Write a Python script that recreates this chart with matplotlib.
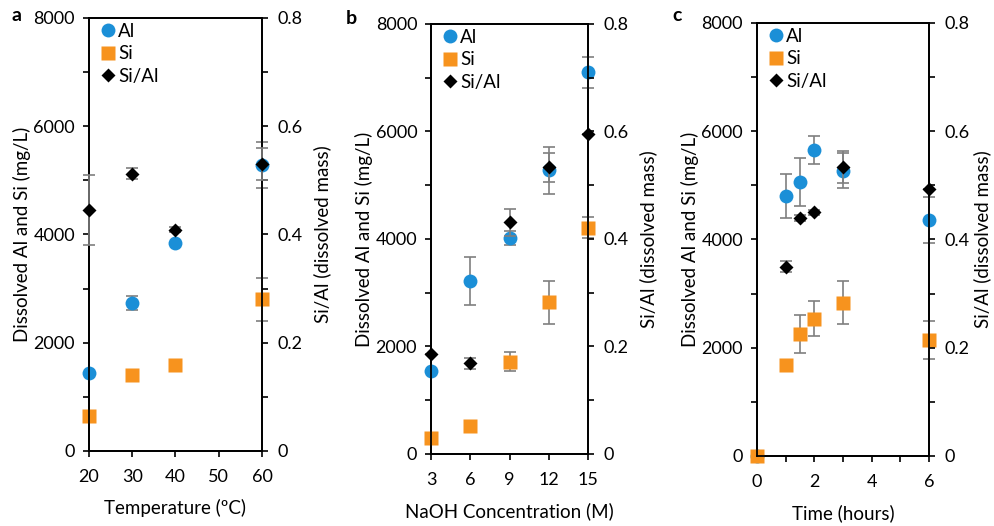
"""
Dissolved Al and Si vs. temperature, NaOH concentration and time,
with Si/Al mass ratio on a secondary axis (three panels).
"""

import numpy as np
import matplotlib.pyplot as plt
from matplotlib.lines import Line2D

plt.rcParams['font.family'] = ['Lato', 'DejaVu Sans']

# ---- data ----

# panel a: temperature
temp = [20, 30, 40, 60]
al_a = [1450, 2730, 3850, 5280]
al_a_err = [0, 130, 0, 430]
si_a = [640, 1400, 1580, 2800]
si_a_err = [0, 0, 0, 390]
ratio_a = [0.445, 0.512, 0.409, 0.530]
ratio_a_err = [0.065, 0.010, 0.005, 0.030]

# panel b: NaOH concentration
naoh = [3, 6, 9, 12, 15]
al_b = [1550, 3220, 4020, 5280, 7100]
al_b_err = [0, 440, 130, 440, 290]
si_b = [290, 530, 1720, 2820, 4210]
si_b_err = [0, 0, 170, 400, 190]
ratio_b = [0.186, 0.169, 0.431, 0.533, 0.596]
ratio_b_err = [0, 0.010, 0.025, 0.027, 0]

# panel c: time
hours = [0, 1, 1.5, 2, 3, 6]
al_c = [0, 4800, 5060, 5660, 5270, 4360]
al_c_err = [0, 410, 450, 260, 320, 420]
si_c = [0, 1680, 2250, 2540, 2830, 2150]
si_c_err = [0, 0, 350, 320, 400, 350]
ratio_c = [np.nan, 0.350, 0.440, 0.450, 0.534, 0.493]
ratio_c_err = [0, 0.010, 0.005, 0.005, 0.030, 0]

BLUE = "#1b8fd7"
ORANGE = "#f7931e"
GREY = "#7f7f7f"

panels = [
    dict(pos=[0.0894, 0.1426, 0.1739, 0.8232], x=temp, xlim=(20, 60),
         xticks=[20, 30, 40, 50, 60], xminor=[], xlabels=["20", "30", "40", "50", "60"],
         xlabel="Temperature (ºC)", letter="a", lpos=(0.012, 0.97), rpad=8,
         al=(al_a, al_a_err), si=(si_a, si_a_err), ratio=(ratio_a, ratio_a_err)),
    dict(pos=[0.4332, 0.1369, 0.1578, 0.8175], x=naoh, xlim=(3, 15),
         xticks=[3, 6, 9, 12, 15], xminor=[], xlabels=["3", "6", "9", "12", "15"],
         xlabel="NaOH Concentration (M)", letter="b", lpos=(0.347, 0.965), rpad=8,
         al=(al_b, al_b_err), si=(si_b, si_b_err), ratio=(ratio_b, ratio_b_err)),
    dict(pos=[0.7608, 0.1331, 0.1729, 0.8232], x=hours, xlim=(0, 6),
         xticks=[0, 2, 4, 6], xminor=[1, 3, 5], xlabels=["0", "2", "4", "6"],
         xlabel="Time (hours)", letter="c", lpos=(0.676, 0.97), rpad=3,
         al=(al_c, al_c_err), si=(si_c, si_c_err), ratio=(ratio_c, ratio_c_err)),
]

fig = plt.figure(figsize=(9.95, 5.26), dpi=100)

FS = 13
eb_kw = dict(ecolor=GREY, elinewidth=1.2, capsize=4, capthick=1.2, linestyle="none")

for p in panels:
    ax = fig.add_axes(p["pos"])
    ax2 = ax.twinx()

    x = p["x"]
    al, al_err = p["al"]
    si, si_err = p["si"]
    ratio, ratio_err = p["ratio"]

    ax.errorbar(x, al, yerr=al_err, fmt="o", color=BLUE, ms=10,
                mec="none", clip_on=False, zorder=3, **eb_kw)
    ax.errorbar(x, si, yerr=si_err, fmt="s", color=ORANGE, ms=9.5,
                mec="none", clip_on=False, zorder=3, **eb_kw)
    ax2.errorbar(x, ratio, yerr=ratio_err, fmt="D", color="black", ms=7,
                 mec="none", clip_on=False, zorder=3, **eb_kw)

    ax.set_xlim(*p["xlim"])
    ax.set_ylim(0, 8000)
    ax2.set_ylim(0, 0.8)

    ax.set_xticks(p["xticks"])
    ax.set_xticklabels(p["xlabels"])
    ax.set_xticks(p["xminor"], minor=True)
    ax.set_yticks([0, 2000, 4000, 6000, 8000])
    ax.set_yticks([1000, 3000, 5000, 7000], minor=True)
    ax2.set_yticks([0, 0.2, 0.4, 0.6, 0.8])
    ax2.set_yticklabels(["0", "0.2", "0.4", "0.6", "0.8"])
    ax2.set_yticks([0.1, 0.3, 0.5, 0.7], minor=True)

    for a in (ax, ax2):
        a.tick_params(which="both", direction="out", length=4, width=1.2,
                      labelsize=FS, colors="black")
        for s in a.spines.values():
            s.set_linewidth(1.3)
    ax.tick_params(axis="x", pad=9)
    ax.tick_params(axis="y", pad=6)
    ax2.tick_params(axis="y", pad=7)

    ax.set_xlabel(p["xlabel"], fontsize=FS + 0.5, labelpad=10)
    ax.set_ylabel("Dissolved Al and Si (mg/L)", fontsize=FS + 0.5, labelpad=2)
    ax2.set_ylabel("Si/Al (dissolved mass)", fontsize=FS + 0.5, labelpad=p["rpad"])

    fig.text(p["lpos"][0], p["lpos"][1], p["letter"], fontsize=14,
             fontweight="bold", ha="left", va="center")

    handles = [
        Line2D([], [], marker="o", color=BLUE, ls="none", ms=10, mec="none"),
        Line2D([], [], marker="s", color=ORANGE, ls="none", ms=9.5, mec="none"),
        Line2D([], [], marker="D", color="black", ls="none", ms=7, mec="none"),
    ]
    ax2.legend(handles, ["Al", "Si", "Si/Al"], loc="upper left",
               bbox_to_anchor=(0.0, 1.015), frameon=False, fontsize=FS + 0.5,
               handlelength=0.8, handletextpad=0.15, labelspacing=0.3,
               borderaxespad=0.2)

plt.savefig("out.png", dpi=100)
